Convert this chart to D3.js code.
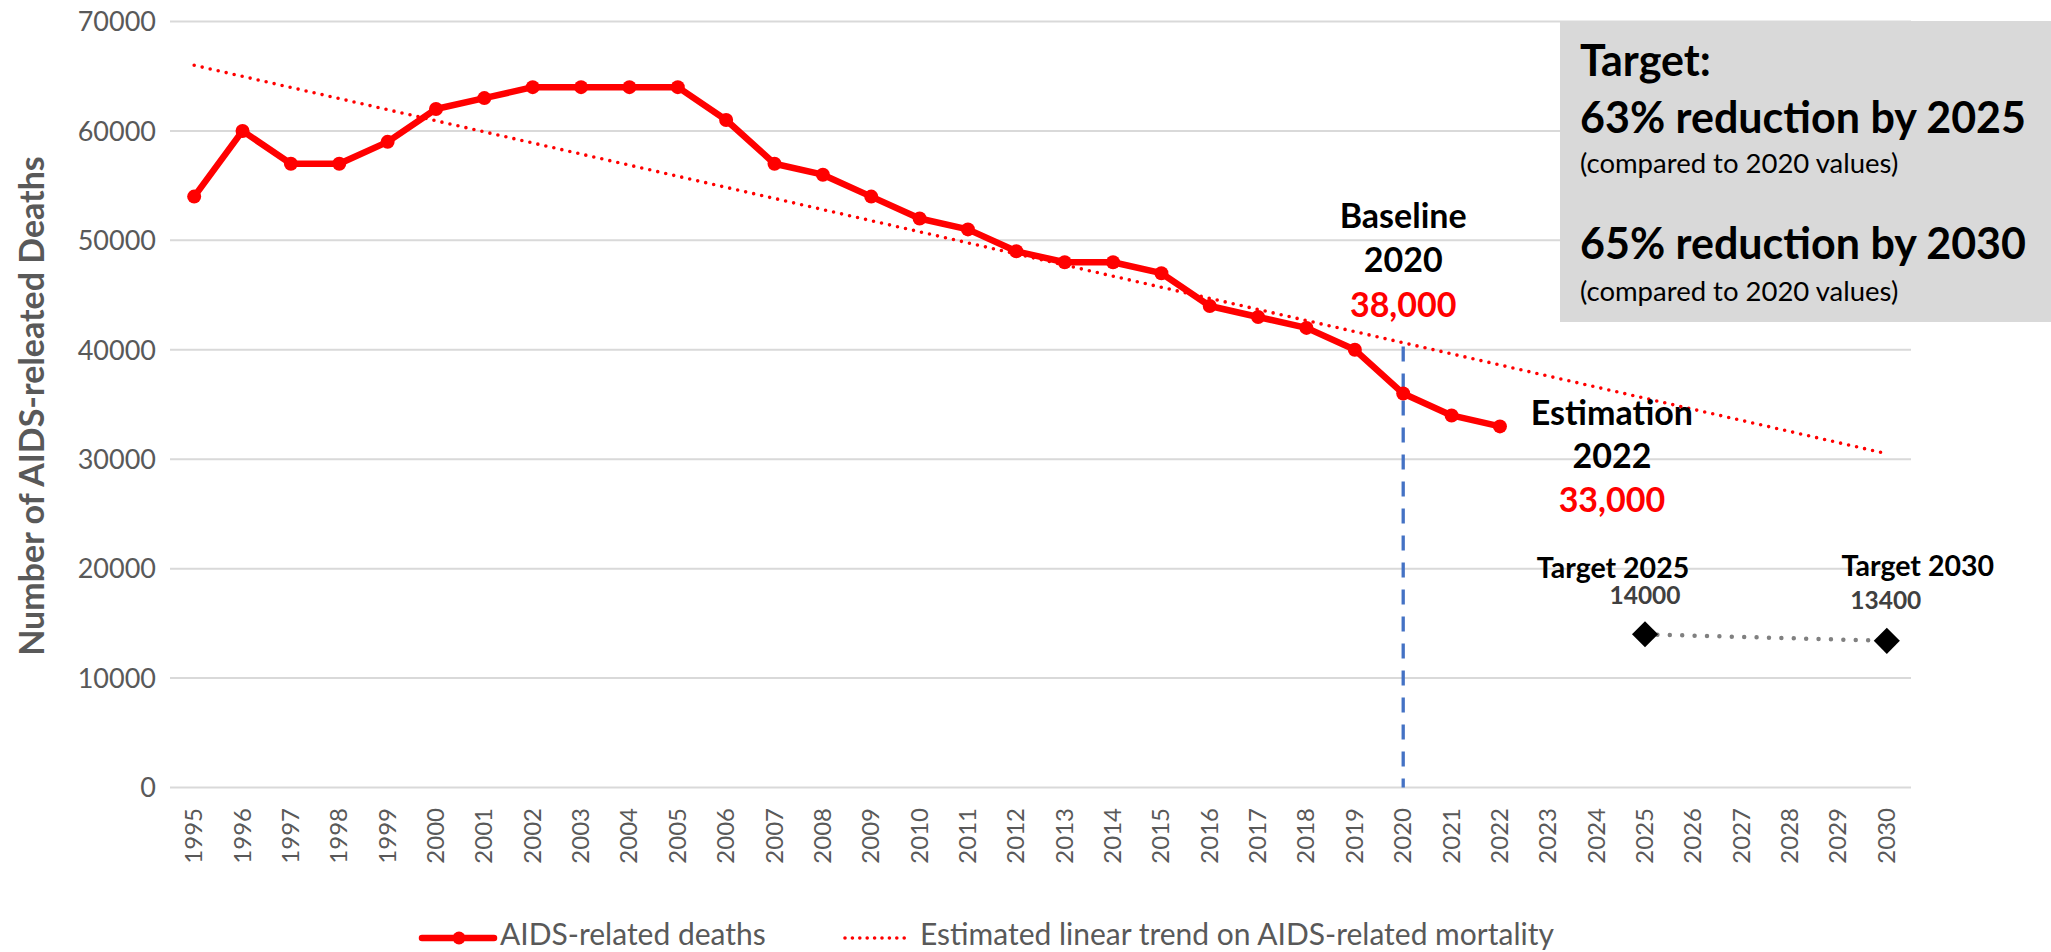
<!DOCTYPE html>
<meta charset="utf-8">
<style>
body { margin: 0; background: #fff; }
svg { display: block; font-family: Lato, "Open Sans", sans-serif; }
.grid line { stroke: #d9d9d9; stroke-width: 2; }
.ytick { font-size: 27px; fill: #595959; }
.xtick { font-size: 24px; fill: #595959; }
.ann { font-weight: bold; fill: #000; }
.legend text { font-size: 30px; fill: #595959; }
</style>
<body>
<svg width="2051" height="952"></svg>
<script src="https://cdn.jsdelivr.net/npm/d3@7"></script>
<script>

// categories on the x axis
var years = [1995, 1996, 1997, 1998, 1999, 2000, 2001, 2002, 2003, 2004, 2005, 2006,
  2007, 2008, 2009, 2010, 2011, 2012, 2013, 2014, 2015, 2016, 2017, 2018,
  2019, 2020, 2021, 2022, 2023, 2024, 2025, 2026, 2027, 2028, 2029, 2030];

// AIDS-related deaths, 1995-2022
var deathYears = [1995, 1996, 1997, 1998, 1999, 2000, 2001, 2002, 2003, 2004, 2005, 2006,
  2007, 2008, 2009, 2010, 2011, 2012, 2013, 2014, 2015, 2016, 2017, 2018,
  2019, 2020, 2021, 2022];
var deaths = [54000, 60000, 57000, 57000, 59000, 62000, 63000, 64000, 64000, 64000, 64000, 61000,
  57000, 56000, 54000, 52000, 51000, 49000, 48000, 48000, 47000, 44000, 43000, 42000,
  40000, 36000, 34000, 33000];

// estimated linear trend (end points)
var trendYears = [1995, 2030];
var trendValues = [66000, 30500];

// targets
var targetYears = [2025, 2030];
var targetValues = [14000, 13400];

var yTicks = [0, 10000, 20000, 30000, 40000, 50000, 60000, 70000];

// baseline drop line
var baselineYear = 2020;
var baselineTop = 40300;

var svg = d3.select("svg");

var x = d3.scalePoint()
    .domain(years)
    .range([170, 1911])
    .padding(0.5);

var y = d3.scaleLinear()
    .domain([0, 70000])
    .range([787.5, 21.5]);

// gridlines
svg.append("g")
    .attr("class", "grid")
  .selectAll("line")
  .data(yTicks)
  .enter().append("line")
    .attr("x1", 170)
    .attr("x2", 1911)
    .attr("y1", function(d) { return y(d); })
    .attr("y2", function(d) { return y(d); });

// y tick labels
svg.append("g")
  .selectAll("text")
  .data(yTicks)
  .enter().append("text")
    .attr("class", "ytick")
    .attr("x", 156)
    .attr("y", function(d) { return y(d); })
    .attr("dy", "0.36em")
    .attr("text-anchor", "end")
    .text(function(d) { return d; });

// x tick labels (rotated)
svg.append("g")
  .selectAll("text")
  .data(years)
  .enter().append("text")
    .attr("class", "xtick")
    .attr("text-anchor", "end")
    .attr("transform", function(d) { return "translate(" + (x(d) + 8) + ",808) rotate(-90)"; })
    .text(function(d) { return d; });

// y axis title
svg.append("text")
    .attr("transform", "translate(44,406) rotate(-90)")
    .attr("text-anchor", "middle")
    .attr("font-size", 34)
    .attr("font-weight", "bold")
    .attr("fill", "#595959")
    .text("Number of AIDS-releated Deaths");

// gray target box
svg.append("rect")
    .attr("x", 1560)
    .attr("y", 21)
    .attr("width", 491)
    .attr("height", 301)
    .attr("fill", "#d9d9d9");

var box = svg.append("g").attr("class", "ann");
box.append("text").attr("x", 1580).attr("y", 76).attr("font-size", 43).text("Target:");
box.append("text").attr("x", 1580).attr("y", 133).attr("font-size", 43).text("63% reduction by 2025");
box.append("text").attr("x", 1580).attr("y", 173).attr("font-size", 27.5).attr("font-weight", "normal").text("(compared to 2020 values)");
box.append("text").attr("x", 1580).attr("y", 259).attr("font-size", 43).text("65% reduction by 2030");
box.append("text").attr("x", 1580).attr("y", 301).attr("font-size", 27.5).attr("font-weight", "normal").text("(compared to 2020 values)");

// baseline drop line
svg.append("line")
    .attr("x1", x(baselineYear))
    .attr("x2", x(baselineYear))
    .attr("y1", y(baselineTop))
    .attr("y2", y(0))
    .attr("stroke", "#4472c4")
    .attr("stroke-width", 3.3)
    .attr("stroke-dasharray", "15,12");

// trend line
var line = d3.line()
    .x(function(d) { return x(d[0]); })
    .y(function(d) { return y(d[1]); });

svg.append("path")
    .datum(d3.zip(trendYears, trendValues))
    .attr("d", line)
    .attr("fill", "none")
    .attr("stroke", "#ff0000")
    .attr("stroke-width", 3.6)
    .attr("stroke-linecap", "round")
    .attr("stroke-dasharray", "0,8.2");

// deaths line + markers
var deathData = d3.zip(deathYears, deaths);
svg.append("path")
    .datum(deathData)
    .attr("d", line)
    .attr("fill", "none")
    .attr("stroke", "#ff0000")
    .attr("stroke-width", 6.5)
    .attr("stroke-linejoin", "round");

svg.append("g")
  .selectAll("circle")
  .data(deathData)
  .enter().append("circle")
    .attr("cx", function(d) { return x(d[0]); })
    .attr("cy", function(d) { return y(d[1]); })
    .attr("r", 7)
    .attr("fill", "#ff0000");

// targets
var targetData = d3.zip(targetYears, targetValues);
svg.append("path")
    .datum(targetData)
    .attr("d", line)
    .attr("fill", "none")
    .attr("stroke", "#808080")
    .attr("stroke-width", 4.5)
    .attr("stroke-linecap", "round")
    .attr("stroke-dasharray", "0,12.4");

svg.append("g")
  .selectAll("path")
  .data(targetData)
  .enter().append("path")
    .attr("d", d3.symbol().type(d3.symbolSquare).size(340))
    .attr("transform", function(d) { return "translate(" + x(d[0]) + "," + y(d[1]) + ") rotate(45)"; })
    .attr("fill", "#000");

// annotations
var ann = svg.append("g").attr("class", "ann").attr("text-anchor", "middle");
var bx = x(baselineYear);
ann.append("text").attr("x", bx).attr("y", 228).attr("font-size", 34).text("Baseline");
ann.append("text").attr("x", bx).attr("y", 272).attr("font-size", 34).text("2020");
ann.append("text").attr("x", bx).attr("y", 317).attr("font-size", 34).attr("fill", "#ff0000").text("38,000");

var ex = x(2022) + 112;
ann.append("text").attr("x", ex).attr("y", 425).attr("font-size", 34).text("Estimation");
ann.append("text").attr("x", ex).attr("y", 468).attr("font-size", 34).text("2022");
ann.append("text").attr("x", ex).attr("y", 512).attr("font-size", 34).attr("fill", "#ff0000").text("33,000");

ann.append("text").attr("x", x(2025) - 32).attr("y", 578).attr("font-size", 28.5).text("Target 2025");
ann.append("text").attr("x", x(2025)).attr("y", 604).attr("font-size", 24.5).attr("fill", "#404040").text(targetValues[0]);
ann.append("text").attr("x", x(2030) + 31).attr("y", 576).attr("font-size", 28.5).text("Target 2030");
ann.append("text").attr("x", x(2030) - 1).attr("y", 609).attr("font-size", 24.5).attr("fill", "#404040").text(targetValues[1]);

// legend
var legend = svg.append("g").attr("class", "legend");
legend.append("line")
    .attr("x1", 422).attr("x2", 494).attr("y1", 938).attr("y2", 938)
    .attr("stroke", "#ff0000").attr("stroke-width", 6.5).attr("stroke-linecap", "round");
legend.append("circle")
    .attr("cx", 459).attr("cy", 938).attr("r", 6.5).attr("fill", "#ff0000");
legend.append("text").attr("x", 500).attr("y", 945).text("AIDS-related deaths");

legend.append("line")
    .attr("x1", 845).attr("x2", 910).attr("y1", 938).attr("y2", 938)
    .attr("stroke", "#ff0000").attr("stroke-width", 3.6)
    .attr("stroke-linecap", "round").attr("stroke-dasharray", "0,7.4");
legend.append("text").attr("x", 920).attr("y", 945).text("Estimated linear trend on AIDS-related mortality");

</script>
</body>
